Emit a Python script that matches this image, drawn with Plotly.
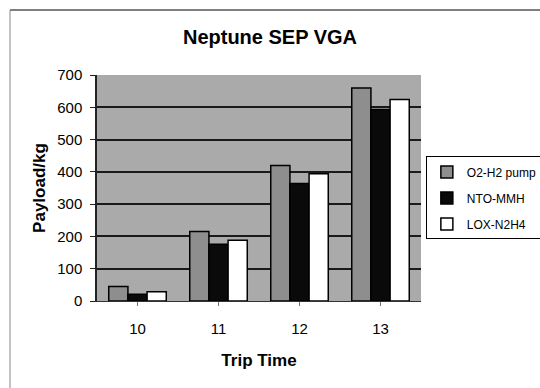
import plotly.graph_objects as go

# Payload (kg) per trip time for three propulsion options
trip_time = ["10", "11", "12", "13"]
o2_h2_pump = [45, 215, 420, 660]
nto_mmh = [21, 176, 364, 593]
lox_n2h4 = [29, 188, 394, 624]

series = [
    ("O2-H2 pump", o2_h2_pump, "#8e8e8e"),
    ("NTO-MMH", nto_mmh, "#0a0a0a"),
    ("LOX-N2H4", lox_n2h4, "#ffffff"),
]

fig = go.Figure()
for name, vals, color in series:
    fig.add_trace(go.Bar(
        x=trip_time, y=vals, name=name, legendgroup=name,
        marker=dict(color=color, line=dict(color="#000000", width=1.5)),
    ))

font_family = "Liberation Sans, Arial, sans-serif"

fig.update_layout(
    width=540, height=388,
    margin=dict(l=97, r=119, t=75, b=87, autoexpand=False),
    paper_bgcolor="#ffffff",
    plot_bgcolor="#aaaaaa",
    barmode="group",
    bargap=0.29,
    bargroupgap=0,
    font=dict(family=font_family, color="#000000", size=15),
    title=dict(
        text="<b>Neptune SEP VGA</b>",
        x=0.5, xanchor="center", y=0.905, yanchor="middle",
        font=dict(size=20, family=font_family),
    ),
    xaxis=dict(
        title=dict(text="<b>Trip Time</b>", font=dict(size=17), standoff=18),
        showgrid=False, ticks="outside", ticklen=4, tickcolor="#777777",
        showline=True, linecolor="#333333", linewidth=1,
        tickfont=dict(size=15), ticklabelstandoff=10,
    ),
    yaxis=dict(
        title=dict(text="<b>Payload/kg</b>", font=dict(size=17), standoff=7),
        range=[0, 700], dtick=100,
        showgrid=True, gridcolor="#1a1a1a", gridwidth=1.5,
        ticks="outside", ticklen=5, tickcolor="#222222",
        showline=True, linecolor="#222222", linewidth=1.5,
        tickfont=dict(size=15), ticklabelstandoff=5, zeroline=False,
    ),
    legend=dict(
        x=1.015, xanchor="left", y=0.456, yanchor="middle",
        bgcolor="#ffffff", bordercolor="#000000", borderwidth=1,
        font=dict(size=12), itemwidth=30, tracegroupgap=7,
    ),
    shapes=[
        dict(type="line", xref="paper", yref="paper",
             x0=-0.2685, x1=1.4, y0=1.2876, y1=1.2876,
             line=dict(color="#555555", width=1.5)),
        dict(type="line", xref="paper", yref="paper",
             x0=-0.2685, x1=-0.2685, y0=1.2876, y1=-0.4,
             line=dict(color="#888888", width=1)),
    ],
)

fig.write_html("out.html")
